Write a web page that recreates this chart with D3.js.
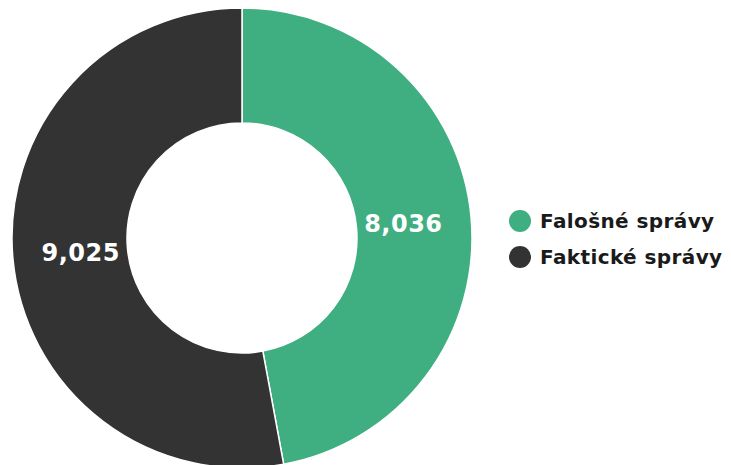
<!DOCTYPE html>
<html>
<head>
<meta charset="utf-8">
<script src="https://cdn.jsdelivr.net/npm/d3@7"></script>
<style>
  html, body { margin: 0; padding: 0; background: #ffffff; }
  svg { display: block; }
  text { font-family: "DejaVu Sans", sans-serif; font-weight: bold; }
</style>
</head>
<body>
<svg id="chart" width="731" height="465"></svg>
<script>
// News article counts by type
const categories = ["Falošné správy", "Faktické správy"];
const counts = [8036, 9025];
const colors = ["#3fae80", "#333333"];

const svg = d3.select("#chart");
const cx = 242, cy = 238;
const outerR = 230, innerR = 115;

const pie = d3.pie().sort(null).value(d => d.value);
const arcs = pie(categories.map((c, i) => ({ name: c, value: counts[i] })));

const arc = d3.arc().innerRadius(innerR).outerRadius(outerR);
const labelArc = d3.arc().innerRadius(162).outerRadius(162);

const g = svg.append("g").attr("transform", `translate(${cx},${cy})`);

g.selectAll("path")
  .data(arcs)
  .join("path")
  .attr("d", arc)
  .attr("fill", (d, i) => colors[i])
  .attr("stroke", "#ffffff")
  .attr("stroke-width", 1.5);

const fmt = d3.format(",");
g.selectAll("text.value")
  .data(arcs)
  .join("text")
  .attr("class", "value")
  .attr("transform", d => `translate(${labelArc.centroid(d)})`)
  .attr("text-anchor", "middle")
  .attr("dy", "0.36em")
  .attr("fill", "#ffffff")
  .style("font-size", "24px")
  .style("letter-spacing", "0.5px")
  .text(d => fmt(d.value));

// Legend
const legend = svg.append("g").attr("transform", "translate(520,221)");
const item = legend.selectAll("g")
  .data(categories)
  .join("g")
  .attr("transform", (d, i) => `translate(0,${i * 36})`);
item.append("circle").attr("r", 11).attr("fill", (d, i) => colors[i]);
item.append("text")
  .attr("x", 20)
  .attr("dy", "0.36em")
  .attr("fill", "#1a1a1a")
  .style("font-size", "20px")
  .style("letter-spacing", "0.4px")
  .text(d => d);
</script>
</body>
</html>
